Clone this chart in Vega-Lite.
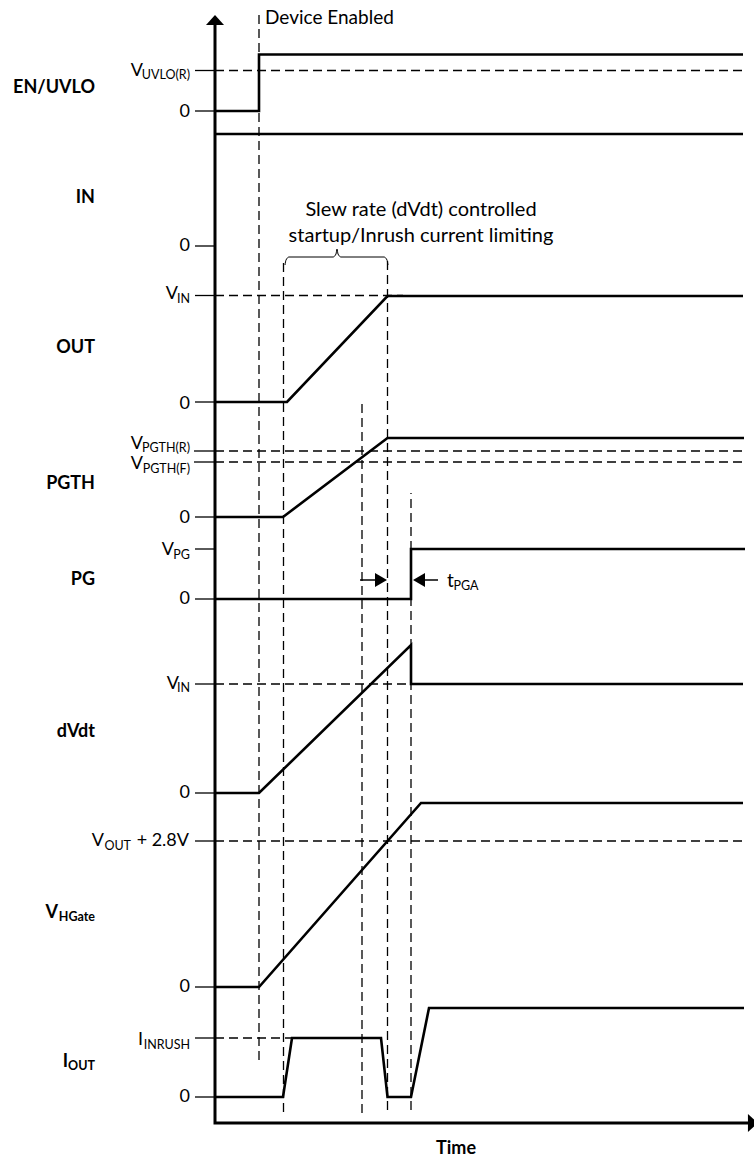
{
  "$schema": "https://vega.github.io/schema/vega-lite/v6.json",
  "width": 754,
  "height": 1159,
  "autosize": {"type": "fit", "contains": "padding"},
  "padding": 0,
  "background": "white",
  "config": {"view": {"stroke": null}, "text": {"font": "Lato", "color": "black"}},
  "datasets": {
    "signals": [
      {"s": "EN", "i": 0, "t": 0, "v": 1012}, {"s": "EN", "i": 1, "t": 44, "v": 1012}, {"s": "EN", "i": 2, "t": 44, "v": 1068.5}, {"s": "EN", "i": 3, "t": 528, "v": 1068.5},
      {"s": "IN", "i": 0, "t": 0, "v": 989}, {"s": "IN", "i": 1, "t": 528, "v": 989},
      {"s": "OUT", "i": 0, "t": 0, "v": 721}, {"s": "OUT", "i": 1, "t": 72, "v": 721}, {"s": "OUT", "i": 2, "t": 172.5, "v": 827}, {"s": "OUT", "i": 3, "t": 528, "v": 827},
      {"s": "PGTH", "i": 0, "t": 0, "v": 606}, {"s": "PGTH", "i": 1, "t": 68, "v": 606}, {"s": "PGTH", "i": 2, "t": 172.5, "v": 685}, {"s": "PGTH", "i": 3, "t": 529, "v": 685},
      {"s": "PG", "i": 0, "t": 0, "v": 524}, {"s": "PG", "i": 1, "t": 196, "v": 524}, {"s": "PG", "i": 2, "t": 196, "v": 574}, {"s": "PG", "i": 3, "t": 530, "v": 574},
      {"s": "DVDT", "i": 0, "t": 0, "v": 330}, {"s": "DVDT", "i": 1, "t": 44, "v": 330}, {"s": "DVDT", "i": 2, "t": 196, "v": 478}, {"s": "DVDT", "i": 3, "t": 196, "v": 439}, {"s": "DVDT", "i": 4, "t": 528, "v": 439},
      {"s": "HG", "i": 0, "t": 0, "v": 136}, {"s": "HG", "i": 1, "t": 44, "v": 136}, {"s": "HG", "i": 2, "t": 206, "v": 320}, {"s": "HG", "i": 3, "t": 528, "v": 320},
      {"s": "IOUT", "i": 0, "t": 0, "v": 26}, {"s": "IOUT", "i": 1, "t": 68, "v": 26}, {"s": "IOUT", "i": 2, "t": 77, "v": 85}, {"s": "IOUT", "i": 3, "t": 166, "v": 85}, {"s": "IOUT", "i": 4, "t": 172.5, "v": 26}, {"s": "IOUT", "i": 5, "t": 196, "v": 26}, {"s": "IOUT", "i": 6, "t": 214, "v": 115}, {"s": "IOUT", "i": 7, "t": 529, "v": 115}
    ],
    "axes": [
      {"i": 0, "t": 0, "v": 1098}, {"i": 1, "t": 0, "v": 0}, {"i": 2, "t": 533, "v": 0}
    ],
    "hdash": [
      {"t": 0, "t2": 528, "v": 1052.5},
      {"t": 0, "t2": 188, "v": 827.5},
      {"t": 0, "t2": 529, "v": 672},
      {"t": 0, "t2": 529, "v": 661},
      {"t": 0, "t2": 196, "v": 439},
      {"t": 0, "t2": 529, "v": 282},
      {"t": 0, "t2": 77, "v": 85}
    ],
    "vdash": [
      {"t": 44, "v": 63, "v2": 1110},
      {"t": 68.5, "v": 11, "v2": 863},
      {"t": 147, "v": 10, "v2": 723},
      {"t": 172.5, "v": 13, "v2": 863},
      {"t": 196, "v": 13, "v2": 630}
    ],
    "ticks": [
      {"t": -20, "t2": 0, "v": 1052.5}, {"t": -20, "t2": 0, "v": 1012}, {"t": -20, "t2": 0, "v": 877}, {"t": -20, "t2": 0, "v": 827.5},
      {"t": -20, "t2": 0, "v": 721}, {"t": -21, "t2": 0, "v": 672}, {"t": -21, "t2": 0, "v": 661}, {"t": -20, "t2": 0, "v": 606},
      {"t": -20, "t2": 0, "v": 574}, {"t": -20, "t2": 0, "v": 524}, {"t": -20, "t2": 0, "v": 439}, {"t": -20, "t2": 0, "v": 330},
      {"t": -20, "t2": 0, "v": 282}, {"t": -20, "t2": 0, "v": 136}, {"t": -20, "t2": 0, "v": 85}, {"t": -20, "t2": 0, "v": 26}
    ],
    "shafts": [
      {"t": 145, "t2": 162, "v": 543},
      {"t": 210, "t2": 223, "v": 543}
    ],
    "brace": [
      {"i": 0, "t": 70, "v": 858}, {"i": 1, "t": 71, "v": 863}, {"i": 2, "t": 74, "v": 866}, {"i": 3, "t": 118, "v": 866},
      {"i": 4, "t": 121, "v": 869}, {"i": 5, "t": 122, "v": 874}, {"i": 6, "t": 123, "v": 869}, {"i": 7, "t": 126, "v": 866},
      {"i": 8, "t": 169, "v": 866}, {"i": 9, "t": 172, "v": 863}, {"i": 10, "t": 173, "v": 858}
    ],
    "heads": [
      {"dir": "up", "t": 0, "v": 1103},
      {"dir": "right", "t": 538, "v": 0},
      {"dir": "smallright", "t": 166, "v": 543},
      {"dir": "smallleft", "t": 204, "v": 543}
    ],
    "boldR": [
      {"text": "EN/UVLO", "t": -120, "v": 1035},
      {"text": "IN", "t": -120, "v": 925.5},
      {"text": "OUT", "t": -120, "v": 775.5},
      {"text": "PGTH", "t": -120, "v": 639},
      {"text": "PG", "t": -120, "v": 543},
      {"text": "dVdt", "t": -120, "v": 391.5},
      {"text": "V", "t": -157, "v": 210},
      {"text": "I", "t": -147, "v": 61.5}
    ],
    "boldSubR": [
      {"text": "HGate", "t": -120, "v": 206},
      {"text": "OUT", "t": -120, "v": 57.5}
    ],
    "regR": [
      {"text": "0", "t": -25, "v": 1011},
      {"text": "0", "t": -25, "v": 877},
      {"text": "0", "t": -25, "v": 719},
      {"text": "0", "t": -25, "v": 605},
      {"text": "0", "t": -25, "v": 524},
      {"text": "0", "t": -25, "v": 330},
      {"text": "0", "t": -25, "v": 136},
      {"text": "0", "t": -25, "v": 26},
      {"text": "V", "t": -72, "v": 1052.5},
      {"text": "V", "t": -37, "v": 829},
      {"text": "V", "t": -72, "v": 679.5},
      {"text": "V", "t": -72, "v": 659},
      {"text": "V", "t": -41, "v": 573},
      {"text": "V", "t": -36, "v": 439.5},
      {"text": "V", "t": -111, "v": 282},
      {"text": "+ 2.8V", "t": -26, "v": 282},
      {"text": "I", "t": -72, "v": 83}
    ],
    "subR": [
      {"text": "UVLO(R)", "t": -25, "v": 1048},
      {"text": "IN", "t": -25, "v": 824.5},
      {"text": "PGTH(R)", "t": -25, "v": 675},
      {"text": "PGTH(F)", "t": -25, "v": 654.5},
      {"text": "PG", "t": -25, "v": 568.5},
      {"text": "IN", "t": -25, "v": 435},
      {"text": "OUT", "t": -84, "v": 277.5},
      {"text": "INRUSH", "t": -25, "v": 78.5}
    ],
    "regL": [
      {"text": "Device Enabled", "t": 50, "v": 1105.5},
      {"text": "t", "t": 232, "v": 542}
    ],
    "subL": [
      {"text": "PGA", "t": 238.5, "v": 537.5}
    ],
    "centerText": [
      {"text": "Slew rate (dVdt) controlled", "t": 206, "v": 913},
      {"text": "startup/Inrush current limiting", "t": 206, "v": 887.5}
    ],
    "timeLabel": [
      {"text": "Time", "t": 241, "v": -25.5}
    ]
  },
  "encoding": {
    "x": {"field": "t", "type": "quantitative", "scale": {"domain": [-215, 539], "nice": false, "zero": false}, "axis": null},
    "y": {"field": "v", "type": "quantitative", "scale": {"domain": [-36, 1123], "nice": false, "zero": false}, "axis": null}
  },
  "layer": [
    {
      "data": {"name": "hdash"},
      "mark": {"type": "rule", "color": "black", "strokeWidth": 1.3, "strokeDash": [9, 5]},
      "encoding": {"x2": {"field": "t2"}}
    },
    {
      "data": {"name": "vdash"},
      "mark": {"type": "rule", "color": "black", "strokeWidth": 1.3, "strokeDash": [9, 5]},
      "encoding": {"y2": {"field": "v2"}}
    },
    {
      "data": {"name": "ticks"},
      "mark": {"type": "rule", "color": "black", "strokeWidth": 1.3},
      "encoding": {"x2": {"field": "t2"}}
    },
    {
      "data": {"name": "shafts"},
      "mark": {"type": "rule", "color": "black", "strokeWidth": 1.5},
      "encoding": {"x2": {"field": "t2"}}
    },
    {
      "data": {"name": "brace"},
      "mark": {"type": "line", "color": "black", "strokeWidth": 1, "interpolate": "monotone"},
      "encoding": {"order": {"field": "i"}}
    },
    {
      "data": {"name": "signals"},
      "mark": {"type": "line", "color": "black", "strokeWidth": 2.6, "strokeJoin": "miter", "strokeCap": "butt"},
      "encoding": {"detail": {"field": "s"}, "order": {"field": "i"}}
    },
    {
      "data": {"name": "axes"},
      "mark": {"type": "line", "color": "black", "strokeWidth": 3, "strokeJoin": "miter", "strokeCap": "butt"},
      "encoding": {"order": {"field": "i"}}
    },
    {
      "data": {"name": "heads"},
      "transform": [{"filter": "datum.dir === 'up'"}],
      "mark": {"type": "point", "filled": true, "color": "black", "opacity": 1, "size": 324, "shape": "M0,-0.56L1,0.56L-1,0.56Z"}
    },
    {
      "data": {"name": "heads"},
      "transform": [{"filter": "datum.dir === 'right'"}],
      "mark": {"type": "point", "filled": true, "color": "black", "opacity": 1, "size": 324, "clip": true, "shape": "M0.56,0L-0.56,-1L-0.56,1Z"}
    },
    {
      "data": {"name": "heads"},
      "transform": [{"filter": "datum.dir === 'smallright'"}],
      "mark": {"type": "point", "filled": true, "color": "black", "opacity": 1, "size": 144, "shape": "M1,0L-1,-1.15L-1,1.15Z"}
    },
    {
      "data": {"name": "heads"},
      "transform": [{"filter": "datum.dir === 'smallleft'"}],
      "mark": {"type": "point", "filled": true, "color": "black", "opacity": 1, "size": 144, "shape": "M-1,0L1,-1.15L1,1.15Z"}
    },
    {
      "data": {"name": "boldR"},
      "mark": {"type": "text", "align": "right", "baseline": "middle", "fontSize": 18, "fontWeight": "bold"},
      "encoding": {"text": {"field": "text"}}
    },
    {
      "data": {"name": "boldSubR"},
      "mark": {"type": "text", "align": "right", "baseline": "middle", "fontSize": 12.5, "fontWeight": "bold"},
      "encoding": {"text": {"field": "text"}}
    },
    {
      "data": {"name": "regR"},
      "mark": {"type": "text", "align": "right", "baseline": "middle", "fontSize": 18},
      "encoding": {"text": {"field": "text"}}
    },
    {
      "data": {"name": "subR"},
      "mark": {"type": "text", "align": "right", "baseline": "middle", "fontSize": 12.5},
      "encoding": {"text": {"field": "text"}}
    },
    {
      "data": {"name": "regL"},
      "mark": {"type": "text", "align": "left", "baseline": "middle", "fontSize": 19},
      "encoding": {"text": {"field": "text"}}
    },
    {
      "data": {"name": "subL"},
      "mark": {"type": "text", "align": "left", "baseline": "middle", "fontSize": 12.5},
      "encoding": {"text": {"field": "text"}}
    },
    {
      "data": {"name": "centerText"},
      "mark": {"type": "text", "align": "center", "baseline": "middle", "fontSize": 20},
      "encoding": {"text": {"field": "text"}}
    },
    {
      "data": {"name": "timeLabel"},
      "mark": {"type": "text", "align": "center", "baseline": "middle", "fontSize": 18, "fontWeight": "bold"},
      "encoding": {"text": {"field": "text"}}
    }
  ]
}
